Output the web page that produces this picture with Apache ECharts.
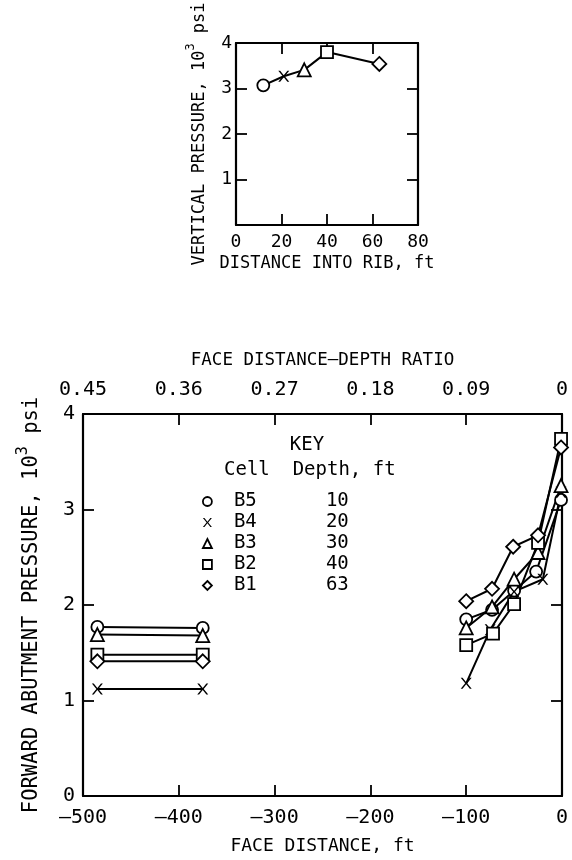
<!DOCTYPE html>
<html>
<head>
<meta charset="utf-8">
<script src="https://cdn.jsdelivr.net/npm/echarts@6/dist/echarts.min.js"></script>
<style>html,body{margin:0;padding:0;background:#fff;}#c{width:572px;height:860px;}</style>
</head>
<body>
<div id="c"></div>
<script>
// ---- data ----
const cells = ['B5', 'B4', 'B3', 'B2', 'B1'];
const depths = [10, 20, 30, 40, 63];

// top chart: vertical pressure vs distance into rib
const ribDist = [12, 21, 30, 40, 63];
const ribPressure = [3.07, 3.27, 3.41, 3.80, 3.54];

// bottom chart: forward abutment pressure vs face distance
const leftDist = [-485, -375];
const B5Left = [1.77, 1.76];
const B4Left = [1.12, 1.12];
const B3Left = [1.69, 1.68];
const B2Left = [1.48, 1.48];
const B1Left = [1.41, 1.41];

const B5Dist = [-100, -73, -50, -27, -1];
const B5Right = [1.85, 1.95, 2.15, 2.35, 3.10];
const B4Dist = [-100, -75, -50, -20, -1];
const B4Right = [1.18, 1.74, 2.14, 2.27, 3.18];
const B3Dist = [-100, -73, -50, -25, -1];
const B3Right = [1.76, 1.98, 2.27, 2.55, 3.25];
const B2Dist = [-100, -72, -50, -25, -1];
const B2Right = [1.58, 1.70, 2.01, 2.65, 3.74];
const B1Dist = [-100, -73, -51, -25, -1];
const B1Right = [2.04, 2.17, 2.61, 2.73, 3.65];

const ratioLabels = ['0.45', '0.36', '0.27', '0.18', '0.09', '0'];

// ---- styling ----
const F = 'DejaVu Sans Mono';
const XPATH = 'path://M0,0L1.7,0L5,4.1L8.3,0L10,0L5.9,5L10,10L8.3,10L5,5.9L1.7,10L0,10L4.1,5Z';
const symbolOf = { B5: 'circle', B4: XPATH, B3: 'triangle', B2: 'rect', B1: 'diamond' };
const sizeOf = { B5: 12, B4: 11, B3: 13, B2: 12, B1: 14 };
const emptyStyle = { color: '#fff', borderColor: '#000', borderWidth: 1.8 };
const xStyle = { color: '#000', borderWidth: 0 };
const styleOf = c => (c === 'B4' ? xStyle : emptyStyle);

const leftVals = { B5: B5Left, B4: B4Left, B3: B3Left, B2: B2Left, B1: B1Left };
const rightDist = { B5: B5Dist, B4: B4Dist, B3: B3Dist, B2: B2Dist, B1: B1Dist };
const rightVals = { B5: B5Right, B4: B4Right, B3: B3Right, B2: B2Right, B1: B1Right };

function axisBase(fs) {
  return {
    axisLine: { show: true, onZero: false, lineStyle: { color: '#000', width: 2.2 } },
    axisTick: { show: true, inside: true, length: 11, lineStyle: { color: '#000', width: 1.8 } },
    splitLine: { show: false },
    axisLabel: { color: '#000', fontFamily: F, fontSize: fs },
    nameTextStyle: { color: '#000', fontFamily: F, fontSize: fs }
  };
}
function merge(a, b) {
  const o = Object.assign({}, a, b);
  ['axisLine', 'axisTick', 'axisLabel', 'nameTextStyle'].forEach(k => {
    if (a[k] && b[k]) o[k] = Object.assign({}, a[k], b[k]);
  });
  return o;
}
const fmtDist = v => (v < 0 ? '\u2013' + (-v) : String(v));

function supName(text1, sup, text2, fs) {
  return {
    name: '{a|' + text1 + '}{s|' + sup + '}{a|' + text2 + '}',
    rich: {
      a: { fontFamily: F, fontSize: fs, color: '#000', lineHeight: fs + 6, verticalAlign: 'bottom' },
      s: { fontFamily: F, fontSize: Math.round(fs * 0.72), color: '#000', lineHeight: fs + 6, verticalAlign: 'top', padding: [0, 0, 10, 0] }
    }
  };
}

const topY = supName('VERTICAL PRESSURE, 10', '3', ' psi', 17);
const botY = supName('FORWARD ABUTMENT PRESSURE, 10', '3', ' psi', 20.5);

const series = [];
// top chart single line with per-point symbols
series.push({
  type: 'line', xAxisIndex: 0, yAxisIndex: 0,
  data: ribDist.map((x, i) => ({
    value: [x, ribPressure[i]],
    symbol: symbolOf[cells[i]],
    symbolSize: sizeOf[cells[i]],
    itemStyle: styleOf(cells[i])
  })),
  lineStyle: { color: '#000', width: 2 },
  symbolKeepAspect: true,
  silent: true, animation: false, z: 3
});
// bottom chart series
cells.forEach(c => {
  const data = leftDist.map((x, i) => [x, leftVals[c][i]]);
  data.push('-');
  rightDist[c].forEach((x, i) => data.push([x, rightVals[c][i]]));
  series.push({
    name: c, type: 'line', xAxisIndex: 1, yAxisIndex: 2,
    data: data, connectNulls: false,
    symbol: symbolOf[c], symbolSize: sizeOf[c], symbolKeepAspect: true,
    itemStyle: styleOf(c),
    lineStyle: { color: '#000', width: 2 },
    animation: false, z: 3
  });
});

const option = {
  backgroundColor: '#fff',
  animation: false,
  grid: [
    { left: 236, top: 43, width: 182, height: 182, containLabel: false },
    { left: 83, top: 414, width: 479, height: 382, containLabel: false }
  ],
  xAxis: [
    merge(axisBase(18), {
      type: 'value', gridIndex: 0, min: 0, max: 80, interval: 20, position: 'bottom',
      name: 'DISTANCE INTO RIB, ft', nameLocation: 'middle', nameGap: 30,
      nameTextStyle: { fontSize: 17 },
      axisLabel: { margin: 8 }
    }),
    merge(axisBase(20), {
      type: 'value', gridIndex: 1, min: -500, max: 0, interval: 100, position: 'bottom',
      name: 'FACE DISTANCE, ft', nameLocation: 'middle', nameGap: 41,
      nameTextStyle: { fontSize: 18 },
      axisLabel: { margin: 12, formatter: fmtDist }
    }),
    merge(axisBase(18), {
      type: 'value', gridIndex: 0, min: 0, max: 80, interval: 20, position: 'top',
      axisLabel: { show: false }
    }),
    merge(axisBase(20), {
      type: 'value', gridIndex: 1, min: -500, max: 0, interval: 100, position: 'top',
      name: 'FACE DISTANCE\u2013DEPTH RATIO', nameLocation: 'middle', nameGap: 45,
      nameTextStyle: { fontSize: 17.5 },
      axisLabel: { margin: 14, formatter: v => ratioLabels[Math.round((v + 500) / 100)] }
    })
  ],
  yAxis: [
    merge(axisBase(18), {
      type: 'value', gridIndex: 0, min: 0, max: 4, interval: 1, position: 'left',
      name: topY.name, nameLocation: 'middle', nameGap: 28, nameRotate: 90,
      nameTextStyle: { rich: topY.rich },
      axisLabel: { margin: 4, formatter: v => (v === 0 ? '' : String(v)) }
    }),
    merge(axisBase(18), {
      type: 'value', gridIndex: 0, min: 0, max: 4, interval: 1, position: 'right',
      axisLabel: { show: false }
    }),
    merge(axisBase(20), {
      type: 'value', gridIndex: 1, min: 0, max: 4, interval: 1, position: 'left',
      name: botY.name, nameLocation: 'middle', nameGap: 41, nameRotate: 90,
      nameTextStyle: { rich: botY.rich },
      axisLabel: { margin: 8 }
    }),
    merge(axisBase(20), {
      type: 'value', gridIndex: 1, min: 0, max: 4, interval: 1, position: 'right',
      axisLabel: { show: false }
    })
  ],
  legend: {
    orient: 'vertical', left: 202, top: 492, padding: 0, itemGap: 2,
    itemWidth: 9, itemHeight: 9, selectedMode: false,
    data: cells.map(c => ({ name: c, icon: symbolOf[c], itemStyle: styleOf(c) })),
    formatter: name => '{p|}{c|' + name + '}{d|' + depths[cells.indexOf(name)] + '}',
    textStyle: {
      color: '#000', fontFamily: F, fontSize: 19,
      rich: {
        p: { width: 17, lineHeight: 21 },
        c: { width: 92, fontFamily: F, fontSize: 19, lineHeight: 21, color: '#000' },
        d: { fontFamily: F, fontSize: 19, lineHeight: 21, color: '#000' }
      }
    }
  },
  graphic: [
    { type: 'text', x: 307, y: 445, style: { text: 'KEY', font: '19px "DejaVu Sans Mono"', fill: '#000', align: 'center', verticalAlign: 'middle' } },
    { type: 'text', x: 224, y: 470, style: { text: 'Cell  Depth, ft', font: '19px "DejaVu Sans Mono"', fill: '#000', align: 'left', verticalAlign: 'middle' } }
  ],
  series: series
};

const chart = echarts.init(document.getElementById('c'), null, { renderer: 'canvas' });
chart.setOption(option);
</script>
</body>
</html>
